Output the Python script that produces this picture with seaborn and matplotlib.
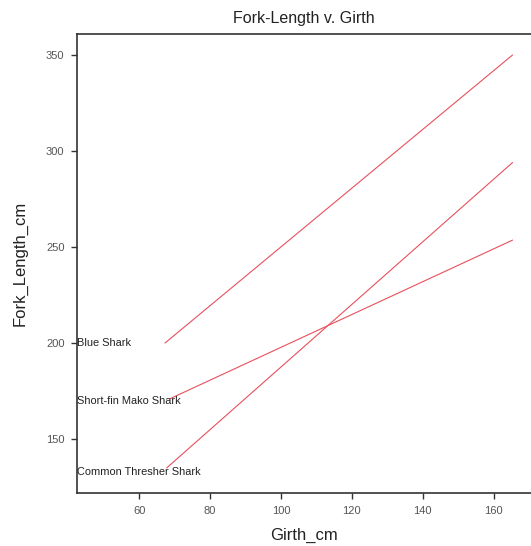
import matplotlib
matplotlib.use("Agg")
import matplotlib.pyplot as plt
import seaborn as sns
import pandas as pd

# fitted line end points
species = ["Blue Shark", "Short-fin Mako Shark", "Common Thresher Shark"]
girth_start = [67.3, 68.7, 67.8]
girth_end = [165.3, 165.3, 165.3]
fl_start = [200.0, 171.0, 135.0]
fl_end = [350.0, 253.6, 294.0]
label_y = [200, 170, 133]

xticks = [60, 80, 100, 120, 140, 160]
yticks = [150, 200, 250, 300, 350]

rows = []
for s, x0, x1, y0, y1 in zip(species, girth_start, girth_end, fl_start, fl_end):
    rows.append({"species": s, "Girth_cm": x0, "Fork_Length_cm": y0})
    rows.append({"species": s, "Girth_cm": x1, "Fork_Length_cm": y1})
df = pd.DataFrame(rows)

sns.set_style("white")
plt.rcParams["font.family"] = ["Liberation Sans", "DejaVu Sans"]

fig = plt.figure(figsize=(5.31, 5.46), dpi=100)
ax = fig.add_axes([0.145, 0.097, 0.855, 0.841])

sns.lineplot(data=df, x="Girth_cm", y="Fork_Length_cm", units="species",
             estimator=None, color="#e8505c", linewidth=0.8, ax=ax)

for s, y in zip(species, label_y):
    ax.text(42.6, y, s, fontsize=7.9, color="#222222", va="center", ha="left")

ax.set_xlim(42.5, 170.5)
ax.set_ylim(121.9, 361)
ax.set_xticks(xticks)
ax.set_yticks(yticks)
ax.tick_params(axis="both", direction="out", length=4, width=1,
               labelsize=8, labelcolor="#555555", color="#333333", pad=5,
               bottom=True, left=True)

for side in ["left", "bottom", "top"]:
    ax.spines[side].set_linewidth(1.2)
    ax.spines[side].set_color("#333333")
ax.spines["right"].set_visible(False)

ax.set_title("Fork-Length v. Girth", fontsize=11.5, color="#222222", pad=8)
ax.set_xlabel("Girth_cm", fontsize=12, color="#222222", labelpad=9)
ax.set_ylabel("Fork_Length_cm", fontsize=12, color="#222222", labelpad=13)

fig.savefig("out.png", dpi=100)
